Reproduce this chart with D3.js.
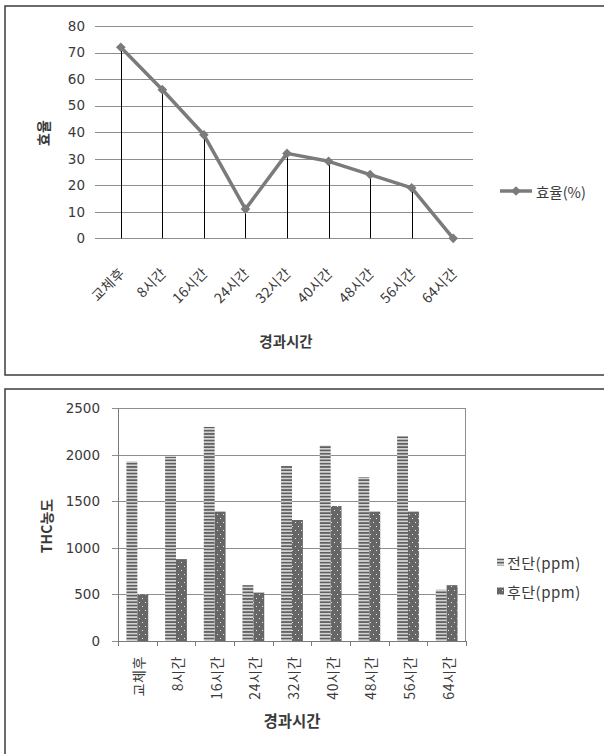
<!DOCTYPE html>
<html>
<head>
<meta charset="utf-8">
<script src="https://cdn.jsdelivr.net/npm/d3@7"></script>
<style>
  html, body { margin: 0; padding: 0; background: #ffffff; }
  svg { display: block; }
  text { fill: #3a3a3a; }
</style>
</head>
<body>
<svg id="chart" width="604" height="754"></svg>
<script>
// Elapsed time after filter replacement
const categories = ["교체후", "8시간", "16시간", "24시간", "32시간", "40시간", "48시간", "56시간", "64시간"];
// Removal efficiency (%)
const efficiency = [72, 56, 39, 11, 32, 29, 24, 19, 0];
// THC concentration, inlet / outlet (ppm)
const frontTHC = [1930, 1980, 2300, 600, 1880, 2100, 1760, 2200, 550];
const rearTHC = [500, 880, 1390, 520, 1300, 1450, 1390, 1390, 600];
// Axis ticks
const effTicks = [0, 10, 20, 30, 40, 50, 60, 70, 80];
const thcTicks = [0, 500, 1000, 1500, 2000, 2500];
// Labels
const effSeriesName = "효율(%)";
const frontName = "전단(ppm)";
const rearName = "후단(ppm)";
const effAxisTitle = "효율";
const thcAxisTitle = "THC농도";
const xAxisTitle = "경과시간";

const svg = d3.select("#chart");
const numFont = "'DejaVu Sans', Verdana, sans-serif";
const krFont = "'Noto Sans CJK KR', 'Noto Sans', sans-serif";
const gridColor = "#8e8e8e";
const markColor = "#7b7b7b";

// ---------- fill patterns ----------
const defs = svg.append("defs");
const stripes = defs.append("pattern")
  .attr("id", "stripes").attr("patternUnits", "userSpaceOnUse")
  .attr("width", 6).attr("height", 3.3);
stripes.append("rect").attr("width", 6).attr("height", 3.3).attr("fill", "#ffffff");
stripes.append("rect").attr("y", 0.6).attr("width", 6).attr("height", 2.1).attr("fill", "#5f5f5f");

const dots = defs.append("pattern")
  .attr("id", "dots").attr("patternUnits", "userSpaceOnUse")
  .attr("width", 6).attr("height", 8);
dots.append("rect").attr("width", 6).attr("height", 8).attr("fill", "#666666");
dots.append("rect").attr("x", 1).attr("y", 2).attr("width", 1).attr("height", 1).attr("fill", "#e8e8e8");
dots.append("rect").attr("x", 4).attr("y", 6).attr("width", 1).attr("height", 1).attr("fill", "#e8e8e8");

// ---------- frames ----------
svg.append("rect").attr("x", 5).attr("y", 6).attr("width", 640).attr("height", 369)
  .attr("fill", "none").attr("stroke", "#3c3c3c").attr("stroke-width", 1.5);
svg.append("rect").attr("x", 5).attr("y", 389).attr("width", 640).attr("height", 400)
  .attr("fill", "none").attr("stroke", "#3c3c3c").attr("stroke-width", 1.5);

// =================== Efficiency line chart ===================
{
  const g = svg.append("g");
  const x = d3.scaleBand().domain(categories).range([100, 474]);
  const cx = c => x(c) + x.bandwidth() / 2;
  const y = d3.scaleLinear().domain([0, 80]).range([238.3, 26]);

  const yAxis = d3.axisLeft(y).tickValues(effTicks).tickSize(-(473 - 95)).tickPadding(10)
    .tickFormat(d3.format("d"));
  const ya = g.append("g").attr("transform", "translate(95,0)").call(yAxis);
  ya.select(".domain").remove();
  ya.selectAll(".tick line").attr("stroke", gridColor).attr("stroke-width", 1).attr("shape-rendering", "crispEdges");
  ya.selectAll(".tick text").attr("font-family", numFont).attr("font-size", 13.5).attr("fill", "#3a3a3a");

  // drop lines from each point to the category axis
  g.selectAll(".drop").data(categories).join("line")
    .attr("x1", c => Math.round(cx(c)) + 0.5).attr("x2", c => Math.round(cx(c)) + 0.5)
    .attr("y1", (c, i) => y(efficiency[i])).attr("y2", y(0))
    .attr("stroke", "#000").attr("stroke-width", 1);

  const line = d3.line().x(c => cx(c)).y((c, i) => y(efficiency[i]));
  g.append("path").datum(categories).attr("d", line)
    .attr("fill", "none").attr("stroke", markColor).attr("stroke-width", 3.5)
    .attr("stroke-linejoin", "round");

  const diamond = d3.symbol().type(d3.symbolDiamond2).size(60);
  g.selectAll(".pt").data(categories).join("path")
    .attr("d", diamond)
    .attr("transform", (c, i) => `translate(${cx(c)},${y(efficiency[i])})`)
    .attr("fill", markColor);

  // category labels, slanted
  g.selectAll(".xl").data(categories).join("text")
    .attr("transform", c => `translate(${cx(c) + 0.5},270) rotate(-45)`)
    .attr("text-anchor", "end").attr("dominant-baseline", "central")
    .attr("font-family", krFont).attr("font-size", 14).attr("letter-spacing", 0.3).text(c => c);

  g.append("text").attr("x", 286).attr("y", 340)
    .attr("text-anchor", "middle").attr("dominant-baseline", "central")
    .attr("font-family", krFont).attr("font-size", 14.5).attr("font-weight", "bold")
    .text(xAxisTitle);

  g.append("text").attr("transform", "translate(43,133) rotate(-90)")
    .attr("text-anchor", "middle").attr("dominant-baseline", "central")
    .attr("font-family", krFont).attr("font-size", 14).attr("font-weight", "bold")
    .text(effAxisTitle);

  // legend
  g.append("line").attr("x1", 500).attr("x2", 532).attr("y1", 191).attr("y2", 191)
    .attr("stroke", markColor).attr("stroke-width", 3.5);
  g.append("path").attr("d", diamond).attr("transform", "translate(516,191)").attr("fill", markColor);
  g.append("text").attr("x", 536).attr("y", 191).attr("dominant-baseline", "central")
    .attr("font-family", krFont).attr("font-size", 14.5).text(effSeriesName);
}

// =================== THC concentration bar chart ===================
{
  const g = svg.append("g");
  const x = d3.scaleBand().domain(categories).range([118, 466]);
  const inner = d3.scaleBand().domain(["front", "rear"]).range([0, x.bandwidth()])
    .paddingInner(0).paddingOuter(0.775);
  const y = d3.scaleLinear().domain([0, 2500]).range([641, 408.3]);

  const yAxis = d3.axisLeft(y).tickValues(thcTicks).tickSize(-(466 - 112)).tickPadding(12)
    .tickFormat(d3.format("d"));
  const ya = g.append("g").attr("transform", "translate(112,0)").call(yAxis);
  ya.select(".domain").remove();
  ya.selectAll(".tick line").attr("stroke", gridColor).attr("stroke-width", 1).attr("shape-rendering", "crispEdges");
  ya.selectAll(".tick text").attr("font-family", numFont).attr("font-size", 13.5).attr("fill", "#3a3a3a");

  // plot frame: left axis and right edge
  g.append("line").attr("x1", 118.5).attr("x2", 118.5).attr("y1", y(2500)).attr("y2", y(0))
    .attr("stroke", "#7a7a7a");
  g.append("line").attr("x1", 465.5).attr("x2", 465.5).attr("y1", y(2500)).attr("y2", y(0))
    .attr("stroke", gridColor);

  // bars
  g.selectAll(".front").data(categories).join("rect")
    .attr("x", c => x(c) + inner("front")).attr("width", inner.bandwidth())
    .attr("y", (c, i) => y(frontTHC[i])).attr("height", (c, i) => y(0) - y(frontTHC[i]))
    .attr("fill", "url(#stripes)");
  g.selectAll(".rear").data(categories).join("rect")
    .attr("x", c => x(c) + inner("rear")).attr("width", inner.bandwidth())
    .attr("y", (c, i) => y(rearTHC[i])).attr("height", (c, i) => y(0) - y(rearTHC[i]))
    .attr("fill", "url(#dots)");

  // category axis with tick marks between categories
  const xAxis = d3.axisBottom(x).tickSize(0).tickPadding(0).tickFormat("");
  const xa = g.append("g").attr("transform", `translate(0,${y(0)})`).call(xAxis);
  xa.select(".domain").attr("stroke", "#7a7a7a").attr("d", "M118,0.5H466");
  const bounds = categories.map(c => x(c)).concat([x.range()[1]]);
  g.selectAll(".xt").data(bounds).join("line")
    .attr("x1", d => Math.round(d) + 0.5).attr("x2", d => Math.round(d) + 0.5)
    .attr("y1", y(0)).attr("y2", y(0) + 5).attr("stroke", "#7a7a7a");

  g.selectAll(".xl").data(categories).join("text")
    .attr("transform", c => `translate(${x(c) + x.bandwidth() / 2 + 1},656) rotate(-90)`)
    .attr("text-anchor", "end").attr("dominant-baseline", "central")
    .attr("font-family", krFont).attr("font-size", 14).attr("letter-spacing", 0.6).text(c => c);

  g.append("text").attr("x", 292).attr("y", 720)
    .attr("text-anchor", "middle").attr("dominant-baseline", "central")
    .attr("font-family", krFont).attr("font-size", 15.5).attr("font-weight", "bold")
    .text(xAxisTitle);

  g.append("text").attr("transform", "translate(46,526) rotate(-90)")
    .attr("text-anchor", "middle").attr("dominant-baseline", "central")
    .attr("font-family", krFont).attr("font-size", 14).attr("font-weight", "bold")
    .text(thcAxisTitle);

  // legend
  const legend = [
    { name: frontName, fill: "url(#stripes)", y: 562 },
    { name: rearName, fill: "url(#dots)", y: 591 }
  ];
  const lg = g.selectAll(".lg").data(legend).join("g");
  lg.append("rect").attr("x", 497).attr("y", d => d.y - 3.5).attr("width", 7).attr("height", 7)
    .attr("fill", d => d.fill);
  lg.append("text").attr("x", 507).attr("y", d => d.y).attr("dominant-baseline", "central")
    .attr("font-family", krFont).attr("font-size", 15).attr("letter-spacing", 0.5).text(d => d.name);
}
</script>
</body>
</html>
